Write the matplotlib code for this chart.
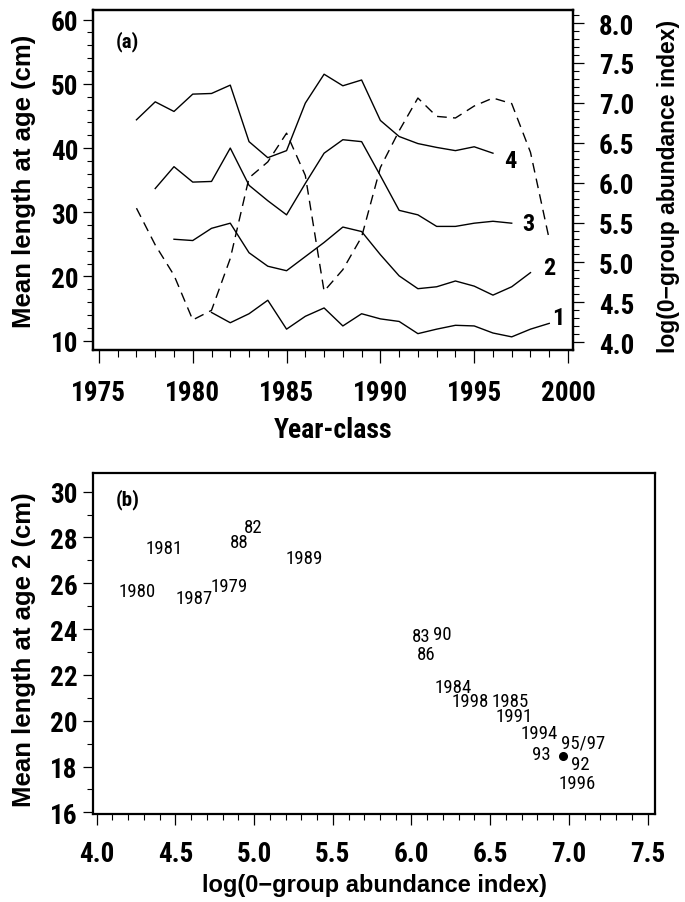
import matplotlib
matplotlib.use("Agg")
import matplotlib.pyplot as plt
from matplotlib import font_manager as fm
from matplotlib.ticker import MultipleLocator, FormatStrFormatter

# ---------------- data ----------------
years = list(range(1977, 2000))
age1_years = list(range(1981, 2000))
age1 = [14.4, 12.8, 14.2, 16.3, 11.8, 13.8, 15.1, 12.3, 14.2, 13.4, 13.0,
        11.1, 11.8, 12.4, 12.3, 11.2, 10.6, 11.8, 12.7]
age2_years = list(range(1979, 1999))
age2 = [25.8, 25.6, 27.5, 28.3, 23.7, 21.6, 20.9, 23.1, 25.3, 27.7, 27.0,
        23.4, 20.1, 18.1, 18.4, 19.3, 18.5, 17.1, 18.4, 20.6]
age3_years = list(range(1978, 1998))
age3 = [33.7, 37.1, 34.7, 34.8, 40.0, 34.2, 31.8, 29.6, 34.5, 39.2, 41.3,
        41.0, 35.7, 30.3, 29.6, 27.8, 27.8, 28.3, 28.6, 28.3]
age4_years = list(range(1977, 1997))
age4 = [44.4, 47.2, 45.7, 48.4, 48.5, 49.8, 41.0, 38.5, 39.6, 47.0, 51.5,
        49.7, 50.6, 44.3, 41.8, 40.7, 40.1, 39.6, 40.2, 39.2]
log_abund = [5.68, 5.22, 4.84, 4.28, 4.40, 5.05, 6.06, 6.26, 6.62, 6.09, 4.64,
             4.91, 5.32, 6.19, 6.65, 7.06, 6.83, 6.81, 6.96, 7.06, 6.99, 6.38, 5.29]
curve_labels = ["1", "2", "3", "4"]
curve_label_x = [1999.5, 1999.0, 1997.9, 1996.9]
curve_label_y = [13.6, 21.4, 28.2, 38.1]

b_labels = ["1981", "88", "82", "1989", "1980", "1987", "1979",
            "83", "90", "86", "1984", "1998", "1985", "1991", "1994",
            "95/97", "93", "92", "1996"]
b_x = [4.43, 4.906, 4.996, 5.32, 4.26, 4.617, 4.84,
       6.06, 6.193, 6.092, 6.263, 6.375, 6.63, 6.654, 6.814,
       7.093, 6.827, 7.071, 7.055]
b_y = [27.54, 27.82, 28.46, 27.10, 25.67, 25.37, 25.88,
       23.71, 23.79, 22.93, 21.46, 20.87, 20.87, 20.20, 19.48,
       19.05, 18.54, 18.12, 17.30]
dot_x = [6.96]
dot_y = [18.46]

# ---------------- fonts ----------------
names = {f.name for f in fm.fontManager.ttflist}
NARROW = "Roboto Condensed" if "Roboto Condensed" in names else "Liberation Sans"
REG = "Liberation Sans"
plt.rcParams['font.family'] = [REG, 'DejaVu Sans']

W, H = 685, 903
fig = plt.figure(figsize=(W / 100, H / 100), dpi=100)

def style_axes(ax):
    for s in ax.spines.values():
        s.set_linewidth(1.6)

def style_ticklabels(labels, size=19.5):
    for lab in labels:
        lab.set_fontsize(size)
        lab.set_fontweight('bold')
        lab.set_family([NARROW, 'DejaVu Sans'])

# ---------------- panel (a) ----------------
ax1 = fig.add_axes([93.3 / W, 1 - 350.7 / H, (572.7 - 93.3) / W, (350.7 - 11) / H])
ax2 = ax1.twinx()
style_axes(ax1)
style_axes(ax2)
lw = 1.0
ax1.plot(age1_years, age1, color='black', lw=lw)
ax1.plot(age2_years, age2, color='black', lw=lw)
ax1.plot(age3_years, age3, color='black', lw=lw)
ax1.plot(age4_years, age4, color='black', lw=lw)
ax2.plot(years, log_abund, color='black', lw=lw, linestyle=(0, (7, 4.5)))
for t, x, y in zip(curve_labels, curve_label_x, curve_label_y):
    ax1.text(x, y, t, ha='center', va='center', fontsize=17.5, fontweight='bold',
             family=[NARROW, 'DejaVu Sans'])

ax1.set_xlim(1974.70, 2000.25)
ax1.set_ylim(8.6, 61.5)
ax2.set_ylim(3.907, 8.163)
ax1.xaxis.set_major_locator(MultipleLocator(5))
ax1.xaxis.set_minor_locator(MultipleLocator(1))
ax1.yaxis.set_major_locator(MultipleLocator(10))
ax1.yaxis.set_minor_locator(MultipleLocator(2))
ax2.yaxis.set_major_locator(MultipleLocator(0.5))
ax2.yaxis.set_minor_locator(MultipleLocator(0.1))
ax2.yaxis.set_major_formatter(FormatStrFormatter('%.1f'))

ax1.tick_params(axis='x', which='major', direction='out', length=9, width=0.9, pad=12)
ax1.tick_params(axis='x', which='minor', direction='out', length=5, width=0.8)
ax1.tick_params(axis='y', which='major', direction='out', length=7.5, width=0.9, pad=3.5)
ax1.tick_params(axis='y', which='minor', direction='out', length=4, width=0.8)
ax2.tick_params(axis='y', which='major', direction='out', length=8, width=0.9, pad=11)
ax2.tick_params(axis='y', which='minor', direction='out', length=4.5, width=0.8)
ax1.tick_params(top=False, right=False, which='both')
ax2.tick_params(left=False, which='both')
style_ticklabels(ax1.get_xticklabels() + ax1.get_yticklabels() + ax2.get_yticklabels())

ax1.text(0.0713, 0.9096, "(a)", transform=ax1.transAxes, ha='center', va='center',
         fontsize=15, fontweight='bold', family=[NARROW, 'DejaVu Sans'])

fig.text(24 / W, 1 - 181 / H, "Mean length at age (cm)", rotation=90, ha='center',
         va='center', fontsize=18.5, fontweight='bold')
fig.text(668 / W, 1 - 186 / H, "log(0\u2212group abundance index)", rotation=90,
         ha='center', va='center', fontsize=16.5, fontweight='bold')
fig.text(333 / W, 1 - 431 / H, "Year-class", ha='center', va='center',
         fontsize=20, fontweight='bold', family=[NARROW, 'DejaVu Sans'])

# ---------------- panel (b) ----------------
ax3 = fig.add_axes([92.7 / W, 1 - 815 / H, (655 - 92.7) / W, (815 - 474.3) / H])
style_axes(ax3)
ax3.set_xlim(3.975, 7.547)
ax3.set_ylim(15.93, 30.8)
for t, x, y in zip(b_labels, b_x, b_y):
    ax3.text(x, y, t, ha='center', va='center', fontsize=13.5,
             family=[NARROW, 'DejaVu Sans'])
ax3.plot(dot_x, dot_y, 'o', color='black', markersize=5.5)
ax3.xaxis.set_major_locator(MultipleLocator(0.5))
ax3.xaxis.set_minor_locator(MultipleLocator(0.1))
ax3.yaxis.set_major_locator(MultipleLocator(2))
ax3.yaxis.set_minor_locator(MultipleLocator(1))
ax3.xaxis.set_major_formatter(FormatStrFormatter('%.1f'))
ax3.tick_params(axis='x', which='major', direction='out', length=8, width=0.9, pad=11)
ax3.tick_params(axis='x', which='minor', direction='out', length=4.5, width=0.8)
ax3.tick_params(axis='y', which='major', direction='out', length=7, width=0.9, pad=4)
ax3.tick_params(axis='y', which='minor', direction='out', length=4, width=0.8)
ax3.tick_params(top=False, right=False, which='both')
style_ticklabels(ax3.get_xticklabels() + ax3.get_yticklabels())
ax3.text(0.0619, 0.9246, "(b)", transform=ax3.transAxes, ha='center', va='center',
         fontsize=15, fontweight='bold', family=[NARROW, 'DejaVu Sans'])

fig.text(24 / W, 1 - 650 / H, "Mean length at age 2 (cm)", rotation=90, ha='center',
         va='center', fontsize=18.5, fontweight='bold')
fig.text(374 / W, 1 - 886 / H, "log(0\u2212group abundance index)", ha='center',
         va='center', fontsize=17, fontweight='bold')

fig.savefig("out.png", dpi=100)
